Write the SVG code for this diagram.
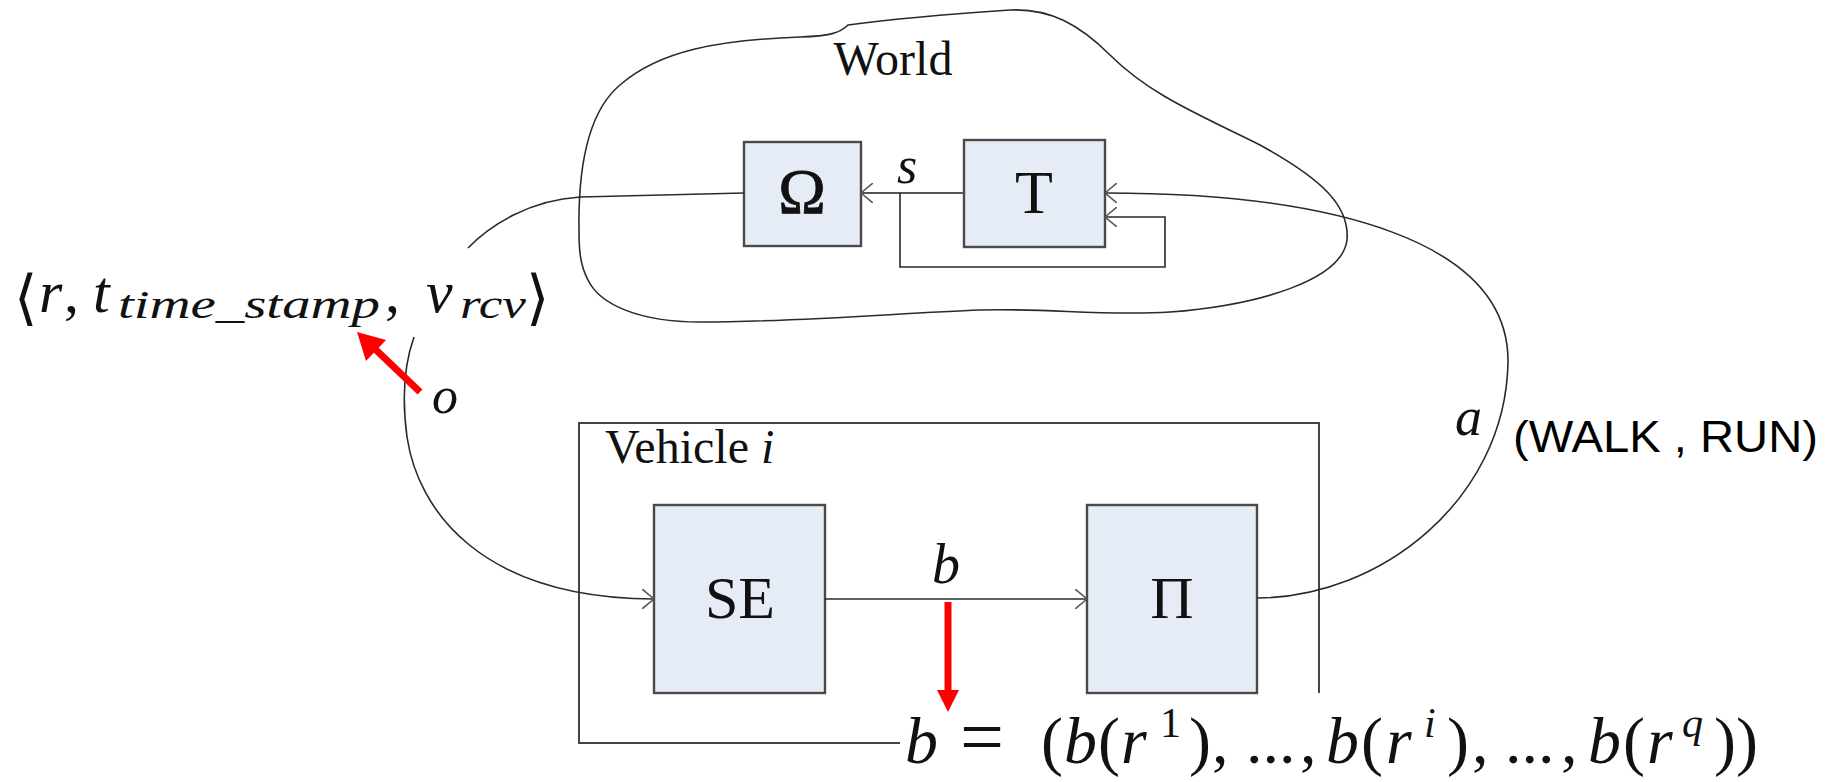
<svg xmlns="http://www.w3.org/2000/svg" width="1831" height="782" viewBox="0 0 1831 782">
<style>
.box{fill:#e5ecf6;stroke:#4a4a4a;stroke-width:2.4}
.ln{fill:none;stroke:#2a2a2a;stroke-width:1.6}
.ln2{fill:none;stroke:#555;stroke-width:2.2}
.frame{fill:none;stroke:#444;stroke-width:2}
.serif{font-family:"Liberation Serif","Times New Roman",serif;fill:#111}
.it{font-family:"Liberation Serif","Times New Roman",serif;font-style:italic;fill:#111}
.sans{font-family:"Liberation Sans",Arial,sans-serif;fill:#000}
.red{stroke:#f00;stroke-width:7;fill:none}
.redh{fill:#f00}
</style>
<defs>
<marker id="arr" viewBox="0 0 12 20" refX="12" refY="10" markerWidth="12" markerHeight="20" markerUnits="userSpaceOnUse" orient="auto">
<path d="M0,0 L12,10 L0,20" fill="none" stroke="#555" stroke-width="1.6"/>
</marker>
</defs>
<rect width="1831" height="782" fill="#fff"/>

<g id="world">
<path class="ln" d="M579,230 C578,160 590,110 620,85 C660,50 720,40 800,37 C830,36 840,33 848,25 C870,22 920,16 1010,10 C1050,8 1080,25 1110,55 C1150,95 1200,115 1260,145 C1320,178 1350,205 1347,240 C1342,280 1260,305 1170,312 C1100,316 1050,308 980,310 C900,313 800,322 700,322 C640,322 600,305 588,280 C580,265 579,250 579,230 Z"/>
<text class="serif" x="893" y="75" font-size="48" text-anchor="middle">World</text>
</g>

<g id="vehicle">
<path class="frame" d="M900,743 L579,743 L579,423 L1319,423 L1319,693"/>
<text class="serif" x="605" y="463" font-size="48">Vehicle <tspan class="it">i</tspan></text>
</g>

<g id="omega">
<rect class="box" x="744" y="142" width="117" height="104"/>
<text class="serif" x="802" y="213" font-size="64" text-anchor="middle" stroke="#111" stroke-width="0.8">Ω</text>
</g>

<g id="T">
<rect class="box" x="964" y="140" width="141" height="107"/>
<text class="serif" x="1034" y="213" font-size="62" text-anchor="middle">T</text>
</g>

<g id="SE">
<rect class="box" x="654" y="505" width="171" height="188"/>
<text class="serif" x="740" y="618" font-size="60" text-anchor="middle">SE</text>
</g>

<g id="Pi">
<rect class="box" x="1087" y="505" width="170" height="188"/>
<text class="serif" x="1172" y="618" font-size="60" text-anchor="middle">Π</text>
</g>

<g id="connectors">
<path class="ln2" d="M964,193 L861,193" marker-end="url(#arr)"/>
<path class="ln" d="M900,193 L900,267 L1165,267 L1165,217 L1105,217" marker-end="url(#arr)"/>
<path class="ln" d="M1257,598 C1380,598 1505,500 1508,363 C1510,240 1330,193 1105,193" marker-end="url(#arr)"/>
<path class="ln" d="M744,193 L580,197 C530,200 490,225 468,248"/>
<path class="ln" d="M414,337 C404,365 402,400 407,437 C418,510 480,598 654,599" marker-end="url(#arr)"/>
<path class="ln" d="M825,599 L1087,599" marker-end="url(#arr)"/>
<line class="red" x1="420" y1="392" x2="374" y2="348"/>
<polygon class="redh" points="357,332 386,340 366,361"/>
<line class="red" x1="948" y1="602" x2="948" y2="692"/>
<polygon class="redh" points="937,690 959,690 948,712"/>
</g>

<g id="labels">
<text class="it" x="897" y="183" font-size="52">s</text>
<text class="it" x="932" y="583" font-size="56">b</text>
<text class="it" x="1455" y="435" font-size="54">a</text>
<text class="it" x="432" y="413" font-size="52">o</text>
<text class="sans" x="1513" y="452" font-size="44" textLength="305" lengthAdjust="spacingAndGlyphs">(WALK , RUN)</text>
</g>

<g id="tuple">
<text font-family="'DejaVu Serif','DejaVu Sans',serif" font-size="60" x="14" y="318" fill="#111">⟨</text>
<text class="it" font-size="60" x="39" y="312">r</text>
<text class="serif" font-size="60" x="64" y="312">,</text>
<text class="it" font-size="60" x="93" y="312">t</text>
<text class="it" font-size="40" x="118" y="318" textLength="262" lengthAdjust="spacingAndGlyphs">time_stamp</text>
<text class="serif" font-size="60" x="385" y="312">,</text>
<text class="it" font-size="60" x="426" y="312">v</text>
<text class="it" font-size="40" x="460" y="318" textLength="66" lengthAdjust="spacingAndGlyphs">rcv</text>
<text font-family="'DejaVu Serif','DejaVu Sans',serif" font-size="60" x="526" y="318" fill="#111">⟩</text>
</g>

<g id="formula">
<text class="serif" font-size="66" y="763"><tspan x="905" font-style="italic">b</tspan><tspan x="960" font-size="78">=</tspan><tspan x="1041">(</tspan><tspan x="1064" font-style="italic">b</tspan><tspan x="1098">(</tspan><tspan x="1121" font-style="italic">r</tspan><tspan x="1160" y="737" font-size="42">1</tspan><tspan x="1189" y="763">)</tspan><tspan x="1212">,</tspan><tspan x="1246">...</tspan><tspan x="1300">,</tspan><tspan x="1326" font-style="italic">b</tspan><tspan x="1361">(</tspan><tspan x="1386" font-style="italic">r</tspan><tspan x="1424" y="737" font-size="42" font-style="italic">i</tspan><tspan x="1447" y="763">)</tspan><tspan x="1472">,</tspan><tspan x="1505">...</tspan><tspan x="1561">,</tspan><tspan x="1588" font-style="italic">b</tspan><tspan x="1623">(</tspan><tspan x="1647" font-style="italic">r</tspan><tspan x="1682" y="737" font-size="42" font-style="italic">q</tspan><tspan x="1714" y="763">))</tspan></text>
</g>
</svg>
